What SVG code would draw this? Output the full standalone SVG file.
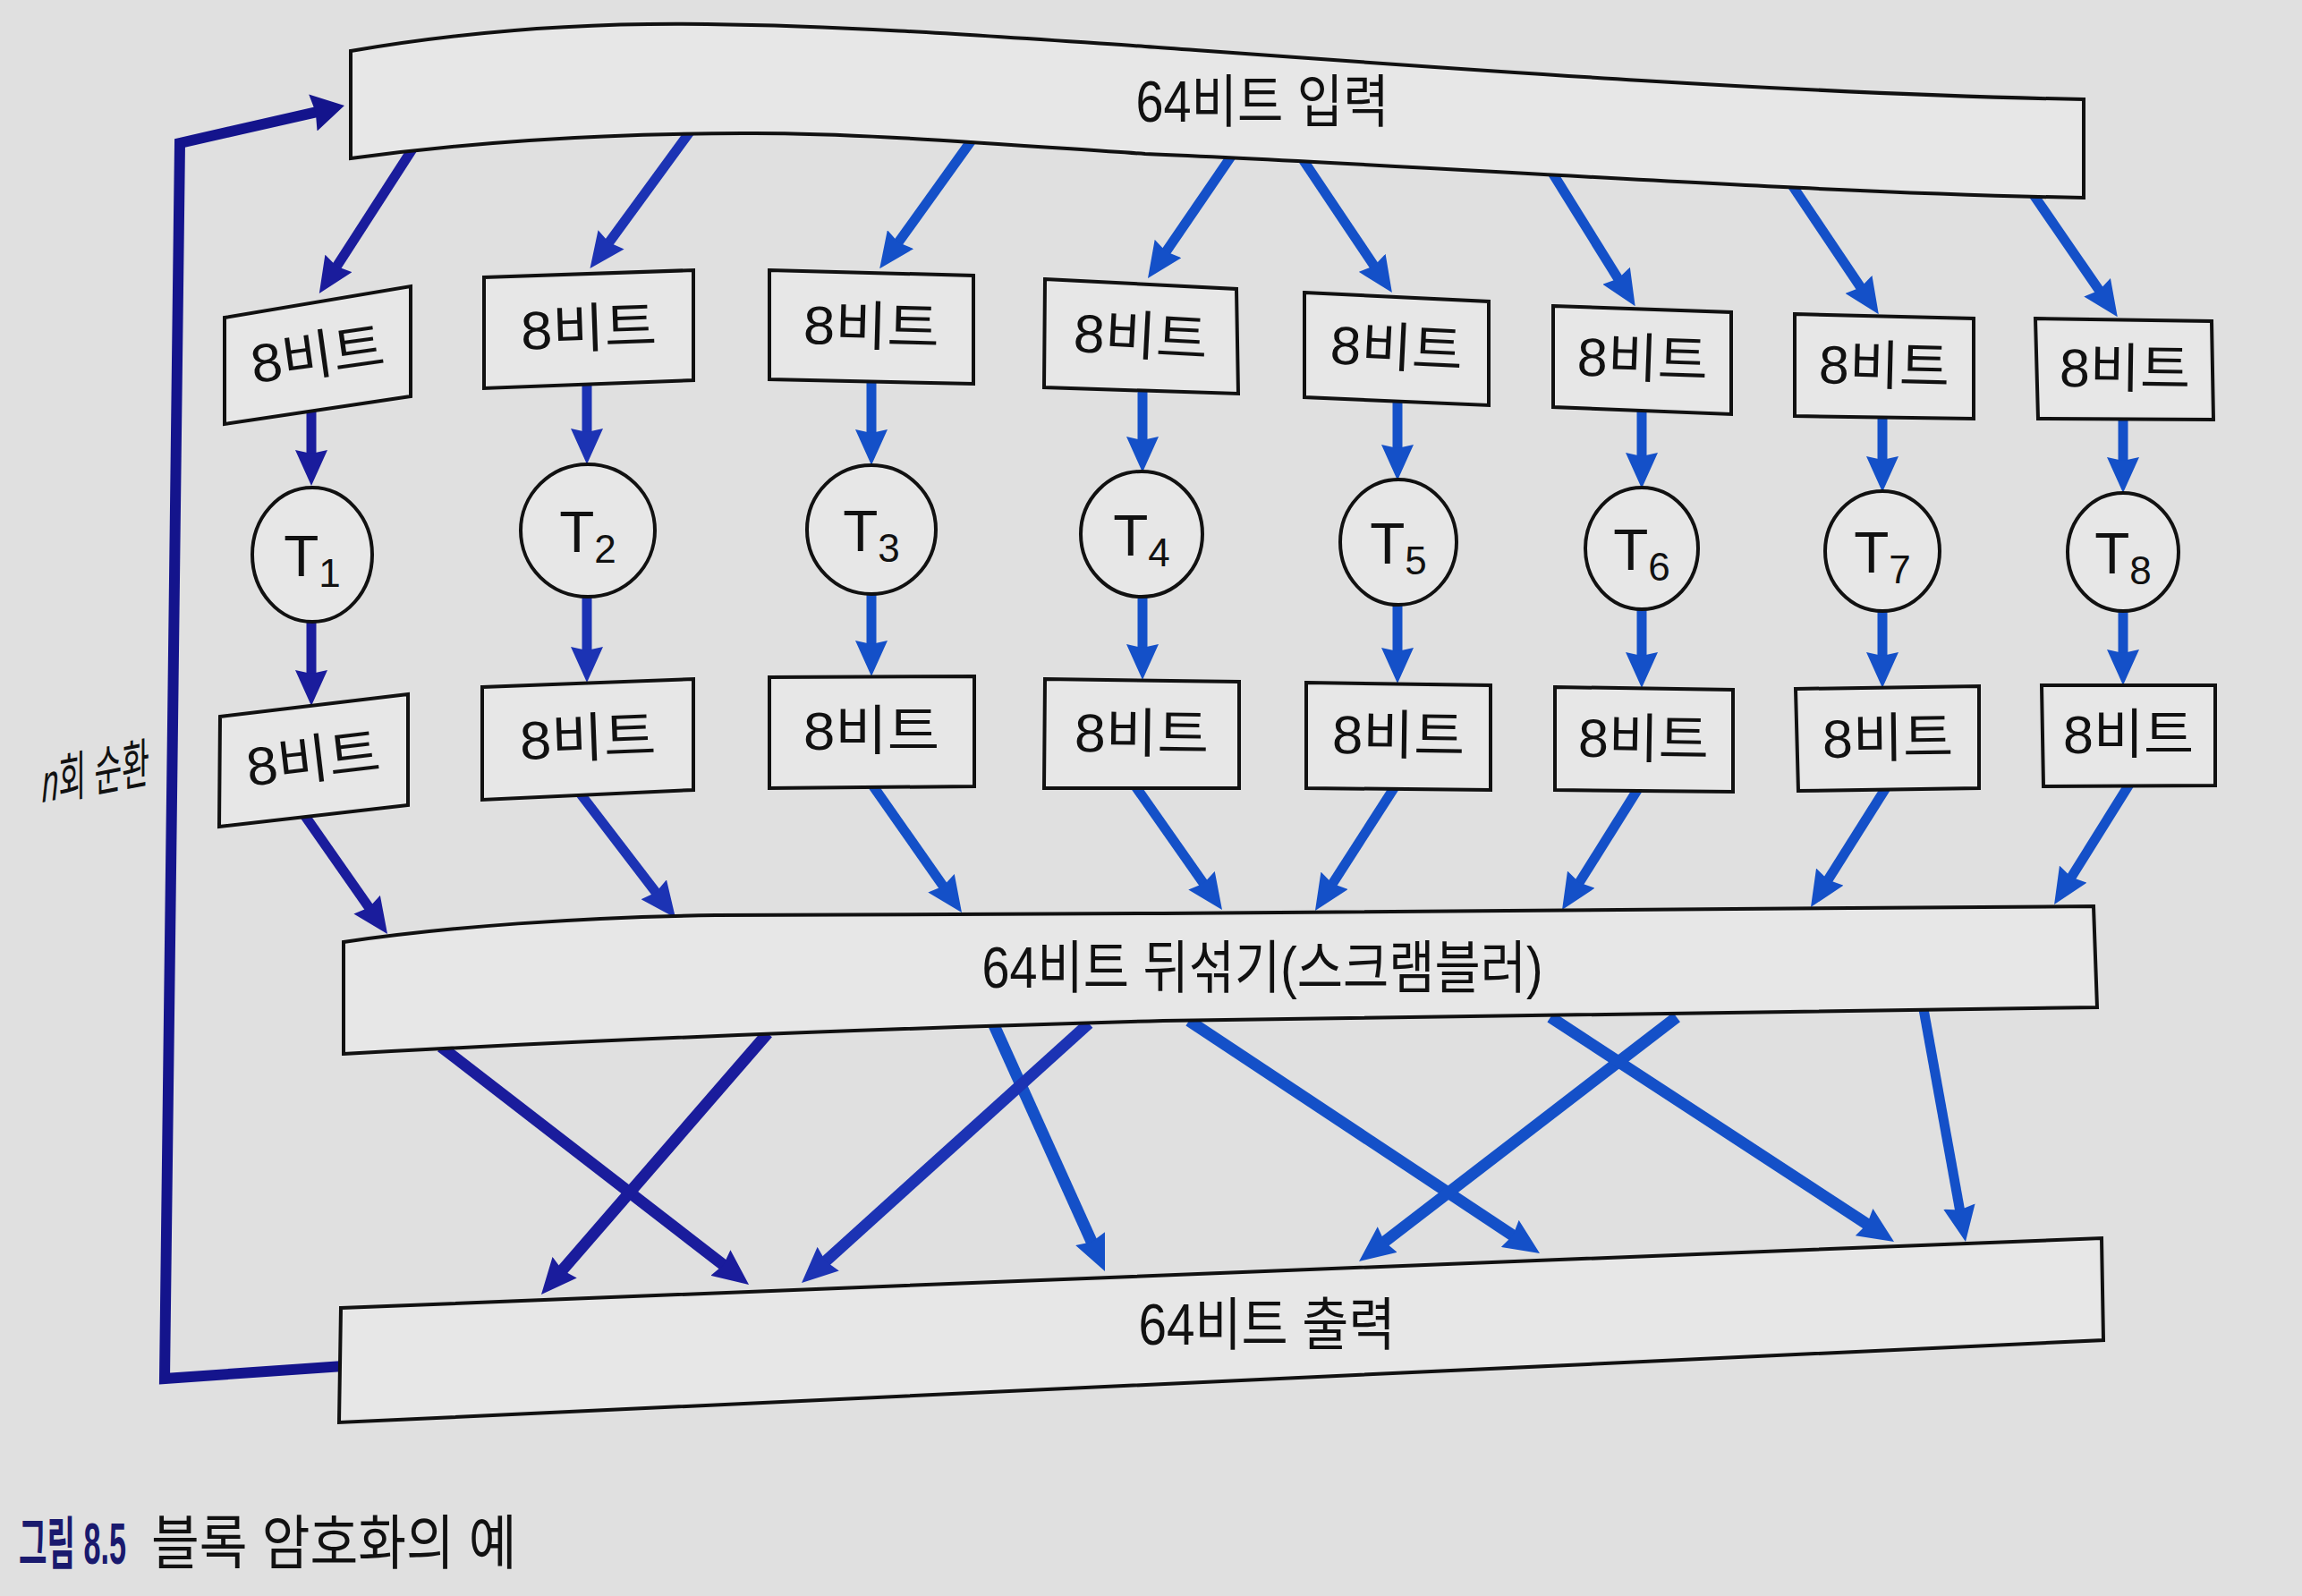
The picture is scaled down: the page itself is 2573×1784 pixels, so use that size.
<svg xmlns="http://www.w3.org/2000/svg" width="2573" height="1784" viewBox="0 0 2573 1784">
<style>
.bg{fill:#e0e0e0}
.box{fill:#e7e7e7;stroke:#111;stroke-width:4;stroke-linejoin:miter}
.circ{fill:#e7e7e7;stroke:#111;stroke-width:4}
.lbl{font-family:"Liberation Sans","Noto Sans CJK KR",sans-serif;font-size:60px;fill:#111}
.big{font-size:64px}
.tl{font-family:"Liberation Sans","Noto Sans CJK KR",sans-serif;font-size:64px;fill:#111}
.sub{font-size:44px}
.aD{stroke:#1a1c9c;stroke-width:11;fill:none}
.aM{stroke:#1c33b4;stroke-width:11;fill:none}
.aL{stroke:#1450c8;stroke-width:11;fill:none}
.thick{stroke-width:13}
.loop{stroke:#14148c;stroke-width:12;fill:none;stroke-linejoin:miter}
.cap{font-family:"Liberation Sans","Noto Sans CJK KR",sans-serif;font-size:66px;fill:#111}
.capn{font-family:"Liberation Sans","Noto Sans CJK KR",sans-serif;font-size:64px;font-weight:bold;fill:#1a1a6e}
</style>
<defs>
<marker id="mD" markerUnits="userSpaceOnUse" markerWidth="40" markerHeight="36" viewBox="0 0 40 36" refX="12" refY="18" orient="auto"><path d="M0,0 L40,18 L0,36 L4,18 Z" fill="#1a1c9c"/></marker>
<marker id="mM" markerUnits="userSpaceOnUse" markerWidth="40" markerHeight="36" viewBox="0 0 40 36" refX="12" refY="18" orient="auto"><path d="M0,0 L40,18 L0,36 L4,18 Z" fill="#1c33b4"/></marker>
<marker id="mL" markerUnits="userSpaceOnUse" markerWidth="40" markerHeight="36" viewBox="0 0 40 36" refX="12" refY="18" orient="auto"><path d="M0,0 L40,18 L0,36 L4,18 Z" fill="#1450c8"/></marker>
<marker id="mLoop" markerUnits="userSpaceOnUse" markerWidth="36" markerHeight="42" viewBox="0 0 36 42" refX="10" refY="21" orient="auto"><path d="M0,0 L36,21 L0,42 L3,21 Z" fill="#14148c"/></marker>
</defs>
<rect class="bg" x="0" y="0" width="2573" height="1784"/>

<g id="connectors">
  <path class="loop" d="M384,1527 L184,1541 L201,160 L359.6,123.8" marker-end="url(#mLoop)"/>
  <line class="aD" x1="462" y1="165" x2="372" y2="304.5" marker-end="url(#mD)"/>
  <line class="aM" x1="772" y1="146" x2="676" y2="277.5" marker-end="url(#mM)"/>
  <line class="aL" x1="1088" y1="154" x2="999.5" y2="277.4" marker-end="url(#mL)"/>
  <line class="aL" x1="1378" y1="172" x2="1298.8" y2="287.9" marker-end="url(#mL)"/>
  <line class="aL" x1="1454" y1="175" x2="1540.3" y2="303.8" marker-end="url(#mL)"/>
  <line class="aL" x1="1735" y1="193" x2="1812.9" y2="318.4" marker-end="url(#mL)"/>
  <line class="aL" x1="2003" y1="207" x2="2084.2" y2="327.9" marker-end="url(#mL)"/>
  <line class="aL" x1="2271" y1="215" x2="2350.9" y2="331.1" marker-end="url(#mL)"/>
  <line class="aD" x1="348" y1="445" x2="348" y2="515" marker-end="url(#mD)"/>
  <line class="aM" x1="656" y1="428" x2="656" y2="491" marker-end="url(#mM)"/>
  <line class="aL" x1="974" y1="424" x2="974" y2="492" marker-end="url(#mL)"/>
  <line class="aL" x1="1277" y1="433" x2="1277" y2="500" marker-end="url(#mL)"/>
  <line class="aL" x1="1562" y1="445" x2="1562" y2="509" marker-end="url(#mL)"/>
  <line class="aL" x1="1835" y1="455" x2="1835" y2="518" marker-end="url(#mL)"/>
  <line class="aL" x1="2104" y1="463" x2="2104" y2="522" marker-end="url(#mL)"/>
  <line class="aL" x1="2373" y1="465" x2="2373" y2="523" marker-end="url(#mL)"/>
  <line class="aD" x1="348" y1="690" x2="348" y2="761" marker-end="url(#mD)"/>
  <line class="aM" x1="656" y1="662" x2="656" y2="735" marker-end="url(#mM)"/>
  <line class="aL" x1="974" y1="660" x2="974" y2="728" marker-end="url(#mL)"/>
  <line class="aL" x1="1277" y1="662" x2="1277" y2="732" marker-end="url(#mL)"/>
  <line class="aL" x1="1562" y1="672" x2="1562" y2="736" marker-end="url(#mL)"/>
  <line class="aL" x1="1835" y1="677" x2="1835" y2="741" marker-end="url(#mL)"/>
  <line class="aL" x1="2104" y1="680" x2="2104" y2="741" marker-end="url(#mL)"/>
  <line class="aL" x1="2373" y1="680" x2="2373" y2="738" marker-end="url(#mL)"/>
  <line class="aD" x1="336" y1="905" x2="417" y2="1021" marker-end="url(#mD)"/>
  <line class="aM" x1="647" y1="885" x2="738" y2="1003.8" marker-end="url(#mM)"/>
  <line class="aL" x1="974" y1="876" x2="1058.9" y2="997.1" marker-end="url(#mL)"/>
  <line class="aL" x1="1267" y1="876" x2="1349.9" y2="994.1" marker-end="url(#mL)"/>
  <line class="aL" x1="1560" y1="878" x2="1485.1" y2="994.4" marker-end="url(#mL)"/>
  <line class="aL" x1="1832" y1="880" x2="1760.9" y2="993.3" marker-end="url(#mL)"/>
  <line class="aL" x1="2109" y1="879" x2="2038.9" y2="990.3" marker-end="url(#mL)"/>
  <line class="aL" x1="2381" y1="875" x2="2310.9" y2="987.3" marker-end="url(#mL)"/>
  <line class="aD thick" x1="493" y1="1170" x2="814.9" y2="1418.9" marker-end="url(#mD)"/>
  <line class="aD thick" x1="858" y1="1155" x2="623.3" y2="1425.8" marker-end="url(#mD)"/>
  <line class="aL thick" x1="1111" y1="1146" x2="1223.5" y2="1395.5" marker-end="url(#mL)"/>
  <line class="aM thick" x1="1217" y1="1144" x2="916.8" y2="1415.2" marker-end="url(#mM)"/>
  <line class="aL thick" x1="1329" y1="1141" x2="1697.7" y2="1385.5" marker-end="url(#mL)"/>
  <line class="aL thick" x1="1874" y1="1137" x2="1541.2" y2="1392.9" marker-end="url(#mL)"/>
  <line class="aL thick" x1="1733" y1="1137" x2="2093.6" y2="1372.7" marker-end="url(#mL)"/>
  <line class="aL" x1="2150" y1="1128" x2="2192" y2="1360.4" marker-end="url(#mL)"/>
</g>

<g id="input">
  <path class="box" d="M392,57 C520,35 650,25 790,27 C950,29 1100,40 1280,52 C1600,75 2000,105 2329,111 L2329,221 C2000,215 1600,185 1280,172 C1100,160 950,148 830,149 C650,150 520,160 392,177 Z"/>
  <text class="lbl big" x="1411" y="136" text-anchor="middle" textLength="283" lengthAdjust="spacingAndGlyphs">64비트 입력</text>
</g>

<g id="in1"><polygon class="box" points="251,355 459,320 459,443 251,474"/><text class="lbl" transform="translate(355,398) rotate(-8)" x="0" y="20" text-anchor="middle" textLength="150" lengthAdjust="spacingAndGlyphs">8비트</text></g>
<g id="in2"><polygon class="box" points="541,310 775,302 775,425 541,434"/><text class="lbl" transform="translate(658,368) rotate(-2)" x="0" y="20" text-anchor="middle" textLength="152" lengthAdjust="spacingAndGlyphs">8비트</text></g>
<g id="in3"><polygon class="box" points="860,302 1088,308 1088,429 860,424"/><text class="lbl" transform="translate(974,366) rotate(1.5)" x="0" y="20" text-anchor="middle" textLength="152" lengthAdjust="spacingAndGlyphs">8비트</text></g>
<g id="in4"><polygon class="box" points="1168,312 1382,323 1384,440 1167,433"/><text class="lbl" transform="translate(1275,377) rotate(3)" x="0" y="20" text-anchor="middle" textLength="150" lengthAdjust="spacingAndGlyphs">8비트</text></g>
<g id="in5"><polygon class="box" points="1458,327 1664,337 1664,453 1458,444"/><text class="lbl" transform="translate(1561,390) rotate(2.8)" x="0" y="20" text-anchor="middle" textLength="148" lengthAdjust="spacingAndGlyphs">8비트</text></g>
<g id="in6"><polygon class="box" points="1736,342 1935,349 1935,463 1736,455"/><text class="lbl" transform="translate(1836,402) rotate(2)" x="0" y="20" text-anchor="middle" textLength="146" lengthAdjust="spacingAndGlyphs">8비트</text></g>
<g id="in7"><polygon class="box" points="2006,351 2206,356 2206,468 2006,465"/><text class="lbl" transform="translate(2106,410) rotate(1.4)" x="0" y="20" text-anchor="middle" textLength="146" lengthAdjust="spacingAndGlyphs">8비트</text></g>
<g id="in8"><polygon class="box" points="2275,356 2472,359 2474,469 2278,468"/><text class="lbl" transform="translate(2375,413) rotate(0.8)" x="0" y="20" text-anchor="middle" textLength="146" lengthAdjust="spacingAndGlyphs">8비트</text></g>

<g id="t1"><ellipse class="circ" cx="349" cy="620" rx="67" ry="75"/><text class="tl" x="349" y="644" text-anchor="middle">T<tspan class="sub" dy="12">1</tspan></text></g>
<g id="t2"><ellipse class="circ" cx="657" cy="593" rx="75" ry="74"/><text class="tl" x="657" y="617" text-anchor="middle">T<tspan class="sub" dy="12">2</tspan></text></g>
<g id="t3"><ellipse class="circ" cx="974" cy="592" rx="72" ry="72"/><text class="tl" x="974" y="616" text-anchor="middle">T<tspan class="sub" dy="12">3</tspan></text></g>
<g id="t4"><ellipse class="circ" cx="1276" cy="597" rx="68" ry="70"/><text class="tl" x="1276" y="621" text-anchor="middle">T<tspan class="sub" dy="12">4</tspan></text></g>
<g id="t5"><ellipse class="circ" cx="1563" cy="606" rx="65" ry="70"/><text class="tl" x="1563" y="630" text-anchor="middle">T<tspan class="sub" dy="12">5</tspan></text></g>
<g id="t6"><ellipse class="circ" cx="1835" cy="613" rx="63" ry="68"/><text class="tl" x="1835" y="637" text-anchor="middle">T<tspan class="sub" dy="12">6</tspan></text></g>
<g id="t7"><ellipse class="circ" cx="2104" cy="616" rx="64" ry="67"/><text class="tl" x="2104" y="640" text-anchor="middle">T<tspan class="sub" dy="12">7</tspan></text></g>
<g id="t8"><ellipse class="circ" cx="2373" cy="617" rx="62" ry="66"/><text class="tl" x="2373" y="641" text-anchor="middle">T<tspan class="sub" dy="12">8</tspan></text></g>

<g id="out1"><polygon class="box" points="246,801 456,776 456,900 245,924"/><text class="lbl" transform="translate(350,850) rotate(-6.8)" x="0" y="20" text-anchor="middle" textLength="150" lengthAdjust="spacingAndGlyphs">8비트</text></g>
<g id="out2"><polygon class="box" points="539,768 775,759 775,883 539,894"/><text class="lbl" transform="translate(657,826) rotate(-2.2)" x="0" y="20" text-anchor="middle" textLength="152" lengthAdjust="spacingAndGlyphs">8비트</text></g>
<g id="out3"><polygon class="box" points="860,757 1089,756 1089,879 860,881"/><text class="lbl" transform="translate(974,818)" x="0" y="20" text-anchor="middle" textLength="152" lengthAdjust="spacingAndGlyphs">8비트</text></g>
<g id="out4"><polygon class="box" points="1168,759 1385,762 1385,881 1167,881"/><text class="lbl" transform="translate(1276,821) rotate(0.7)" x="0" y="20" text-anchor="middle" textLength="150" lengthAdjust="spacingAndGlyphs">8비트</text></g>
<g id="out5"><polygon class="box" points="1460,763 1666,766 1666,883 1460,881"/><text class="lbl" transform="translate(1563,823) rotate(0.8)" x="0" y="20" text-anchor="middle" textLength="148" lengthAdjust="spacingAndGlyphs">8비트</text></g>
<g id="out6"><polygon class="box" points="1738,768 1937,771 1937,885 1738,883"/><text class="lbl" transform="translate(1837,827) rotate(0.9)" x="0" y="20" text-anchor="middle" textLength="146" lengthAdjust="spacingAndGlyphs">8비트</text></g>
<g id="out7"><polygon class="box" points="2007,770 2212,767 2212,881 2010,884"/><text class="lbl" transform="translate(2110,826) rotate(-0.7)" x="0" y="20" text-anchor="middle" textLength="146" lengthAdjust="spacingAndGlyphs">8비트</text></g>
<g id="out8"><polygon class="box" points="2282,766 2476,766 2476,878 2284,879"/><text class="lbl" transform="translate(2379,822)" x="0" y="20" text-anchor="middle" textLength="146" lengthAdjust="spacingAndGlyphs">8비트</text></g>

<g id="scrambler">
  <path class="box" d="M384,1053 C500,1036 650,1025 800,1023 L1300,1021 L2340,1013 L2344,1126 L1300,1141 Q800,1155 384,1178 Z"/>
  <text class="lbl big" x="1411" y="1104" text-anchor="middle" textLength="627" lengthAdjust="spacingAndGlyphs">64비트 뒤섞기(스크램블러)</text>
</g>

<g id="output">
  <polygon class="box" points="381,1462 2349,1384 2351,1498 379,1590"/>
  <text class="lbl big" x="1416" y="1503" text-anchor="middle" textLength="287" lengthAdjust="spacingAndGlyphs">64비트 출력</text>
</g>

<g id="loop-label">
  <text class="lbl" transform="translate(47,897) skewY(-11)" x="0" y="0" font-size="50" textLength="120" lengthAdjust="spacingAndGlyphs"><tspan font-style="italic">n</tspan>회 순환</text>
</g>

<g id="caption">
  <text class="capn" transform="translate(21,1748) scale(0.535,1)" x="0" y="0">그림 8.5</text>
  <text class="cap" transform="translate(169,1748) scale(0.885,1)" x="0" y="0">블록 암호화의 예</text>
</g>
</svg>
